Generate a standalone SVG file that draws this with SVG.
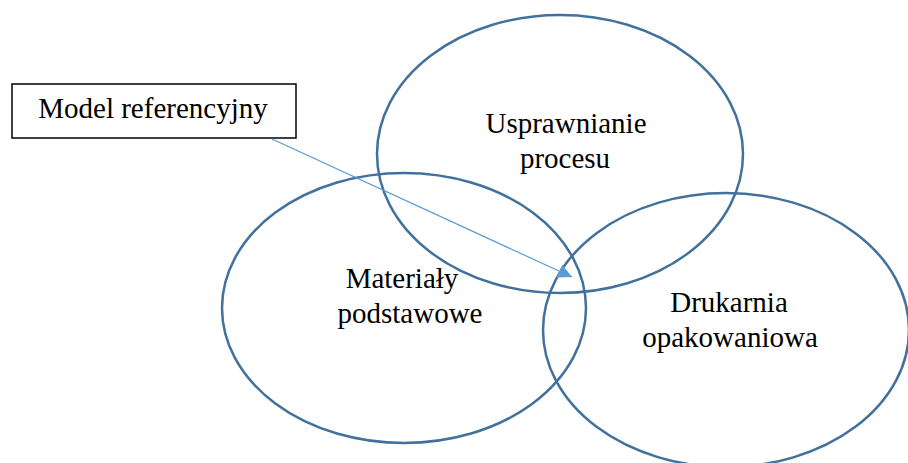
<svg xmlns="http://www.w3.org/2000/svg" width="908" height="463" viewBox="0 0 908 463">
  <style>
    .ring { fill: none; stroke: #41719C; stroke-width: 2.5; }
    .label { font-family: "Liberation Serif", "Times New Roman", "DejaVu Serif", serif; font-size: 29px; fill: #000; text-anchor: middle; }
    .box { fill: #fff; stroke: #000; stroke-width: 1.5; }
    .link { stroke: #5B9BD5; stroke-width: 1.2; fill: none; }
  </style>
  <defs>
    <marker id="head" viewBox="0 0 10 10" refX="10" refY="5" markerWidth="14" markerHeight="14" markerUnits="userSpaceOnUse" orient="auto">
      <path d="M0,0 L10,5 L0,10 Z" fill="#5B9BD5"/>
    </marker>
  </defs>
  <rect width="908" height="463" fill="#fff"/>

  <g id="process">
    <ellipse class="ring" cx="560" cy="154" rx="183" ry="139"/>
    <text class="label" x="566" y="133">Usprawnianie</text>
    <text class="label" x="565" y="168">procesu</text>
  </g>

  <g id="materials">
    <ellipse class="ring" cx="404" cy="308" rx="182" ry="135"/>
    <text class="label" x="402" y="288">Materiały</text>
    <text class="label" x="410" y="323">podstawowe</text>
  </g>

  <g id="printing">
    <ellipse class="ring" cx="726" cy="330" rx="183" ry="137"/>
    <text class="label" x="729" y="312">Drukarnia</text>
    <text class="label" x="730" y="347">opakowaniowa</text>
  </g>

  <g id="reference-model">
    <rect class="box" x="12" y="84" width="284" height="54"/>
    <text class="label" x="153" y="118">Model referencyjny</text>
  </g>

  <g id="connectors">
    <line class="link" x1="272" y1="139" x2="572" y2="277" marker-end="url(#head)"/>
  </g>
</svg>
